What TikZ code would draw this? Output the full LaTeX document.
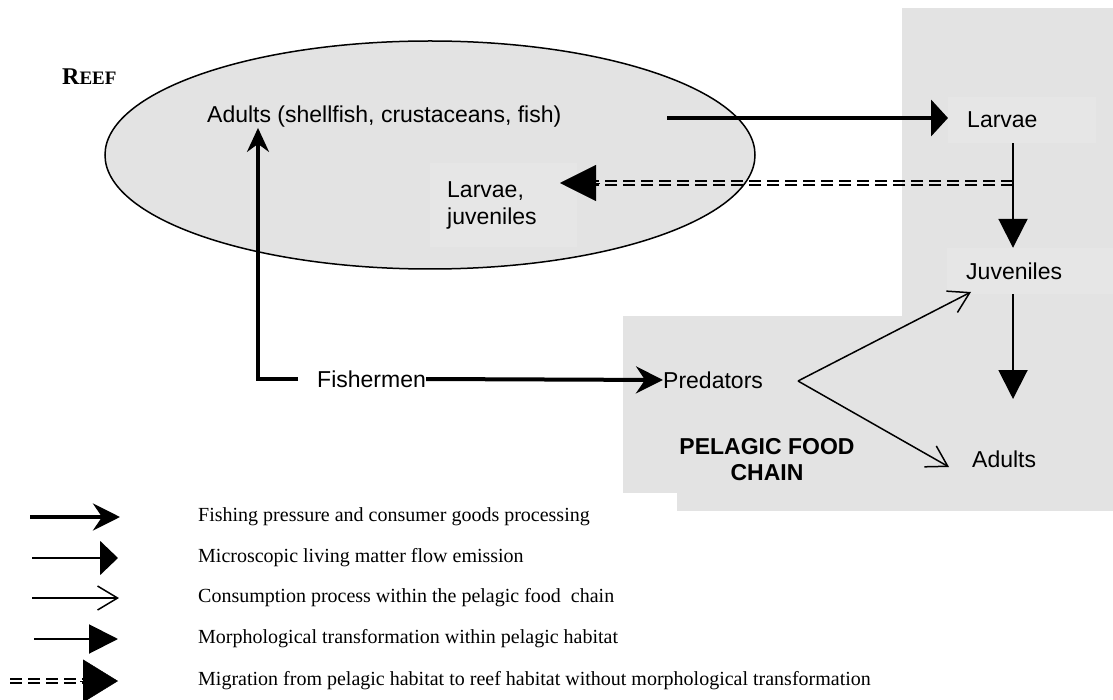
\documentclass[tikz,border=0pt]{standalone}
\usepackage{fontspec}
\setmainfont{Liberation Serif}
\setsansfont{Liberation Sans}
\usetikzlibrary{arrows.meta}
\definecolor{regfill}{HTML}{E3E3E3}
\definecolor{boxfill}{HTML}{E6E6E6}
\tikzset{
  lbl/.style={font=\sffamily\fontsize{23}{27}\selectfont, inner sep=0pt, anchor=west, align=left},
  lgd/.style={font=\rmfamily\fontsize{20}{23}\selectfont, anchor=west, inner sep=0pt},
  flowarrow/.style={line width=4.5pt, -{Triangle[length=17pt,width=36pt]}},
  fisharrow/.style={line width=4pt, -{Stealth[length=27pt,width=27pt,inset=9pt]}},
  brackarrow/.style={line width=3.5pt, -{Stealth[length=24pt,width=22pt,inset=8pt]}},
  eatarrow/.style={line width=1.5pt, -{Straight Barb[length=20pt,width=24pt,line width=1.5pt]}},
  growarrow/.style={line width=2pt, -{Triangle[length=29pt,width=29pt]}},
  migline/.style={line width=2.2pt, dash pattern=on 12pt off 6pt},
  migtip/.style={-{Triangle[length=36pt,width=36pt]}}
}
\begin{document}
\begin{tikzpicture}[x=1pt,y=-1pt]
\useasboundingbox (0,0) rectangle (1113,700);

% habitats
\fill[regfill] (902,8) rectangle (1113,511);
\fill[regfill] (623,316) rectangle (903,493);
\fill[regfill] (677,330) rectangle (1113,511);
\draw[fill=regfill, line width=1.5pt] (430,155) ellipse [x radius=325, y radius=114];

% labels
\node[font=\rmfamily\bfseries, anchor=west, inner sep=0pt] (reef) at (62,77)
  {{\fontsize{24}{24}\selectfont R}{\fontsize{19}{19}\selectfont EEF}};
\node[lbl] (adults) at (207,117) {Adults (shellfish, crustaceans, fish)};
\node[lbl, fill=boxfill, minimum height=84pt, minimum width=130pt, text width=113pt, inner xsep=17pt] (larjuv) at (430,205) {Larvae,\\juveniles};
\node[lbl, fill=boxfill, minimum width=129pt, minimum height=46pt, text width=110pt, inner xsep=19pt] (larvae) at (948,120) {Larvae};
\node[lbl, fill=boxfill, minimum width=151pt, minimum height=46pt, text width=132pt, inner xsep=19pt] (juveniles) at (947,271) {Juveniles};
\node[lbl] (fishermen) at (317,379) {Fishermen};
\node[lbl] (predators) at (663,380) {Predators};
\node[lbl] (padults) at (972,459) {Adults};
\node[font=\sffamily\bfseries\fontsize{23}{26}\selectfont, align=center, inner sep=0pt] (pelagic) at (767,460) {PELAGIC FOOD\\CHAIN};

% routing points
\coordinate (col) at (1013,0);
\coordinate (brk) at (258,379);
\coordinate (migstart) at (1013,183);
\coordinate (predpt) at (798,381);

% flows
\draw[flowarrow] (667,118) -- (larvae.west |- 667,118);
\draw[growarrow] (larvae.south -| col) -- (juveniles.north -| col);
\draw[growarrow] (juveniles.south -| col) -- (1013,399);
\draw[migline] ([yshift=-2pt]migstart) -- ([yshift=-2pt]596,183);
\draw[migline] ([yshift=2pt]migstart) -- ([yshift=2pt]596,183);
\path[migtip] (600,183) edge (560,183);
\draw[fisharrow] (fishermen.east) -- (predators.west);
\draw[brackarrow] ([xshift=-19pt]fishermen.west) -- (brk) -- (brk |- adults.south);
\draw[eatarrow] (predpt) -- (971,292);
\draw[eatarrow] (predpt) -- (949,467);

% legend
\node[lgd] (k1) at (198,517) {Fishing pressure and consumer goods processing};
\node[lgd] (k2) at (198,558) {Microscopic living matter flow emission};
\node[lgd] (k3) at (198,598) {Consumption process within the pelagic food\ \ chain};
\node[lgd] (k4) at (198,639) {Morphological transformation within pelagic habitat};
\node[lgd] (k5) at (198,681) {Migration from pelagic habitat to reef habitat without morphological transformation};

\coordinate (a1) at (30,517);  \coordinate (b1) at (120,517);
\coordinate (a2) at (32,558);  \coordinate (b2) at (118,558);
\coordinate (a3) at (32,598);  \coordinate (b3) at (119,598);
\coordinate (a4) at (34,639);  \coordinate (b4) at (118,639);
\coordinate (a5) at (10,681);  \coordinate (b5) at (118,681);

\draw[fisharrow] (a1) -- (b1);
\draw[line width=2pt, -{Triangle[length=18pt,width=34pt]}] (a2) -- (b2);
\draw[eatarrow] (a3) -- (b3);
\draw[growarrow] (a4) -- (b4);
\draw[migline] ([yshift=-2pt]a5) -- ([xshift=-35pt,yshift=-2pt]b5);
\draw[migline] ([yshift=2pt]a5) -- ([xshift=-35pt,yshift=2pt]b5);
\path[-{Triangle[length=35pt,width=43pt]}] ([xshift=-38pt]b5) edge (b5);
\end{tikzpicture}
\end{document}
